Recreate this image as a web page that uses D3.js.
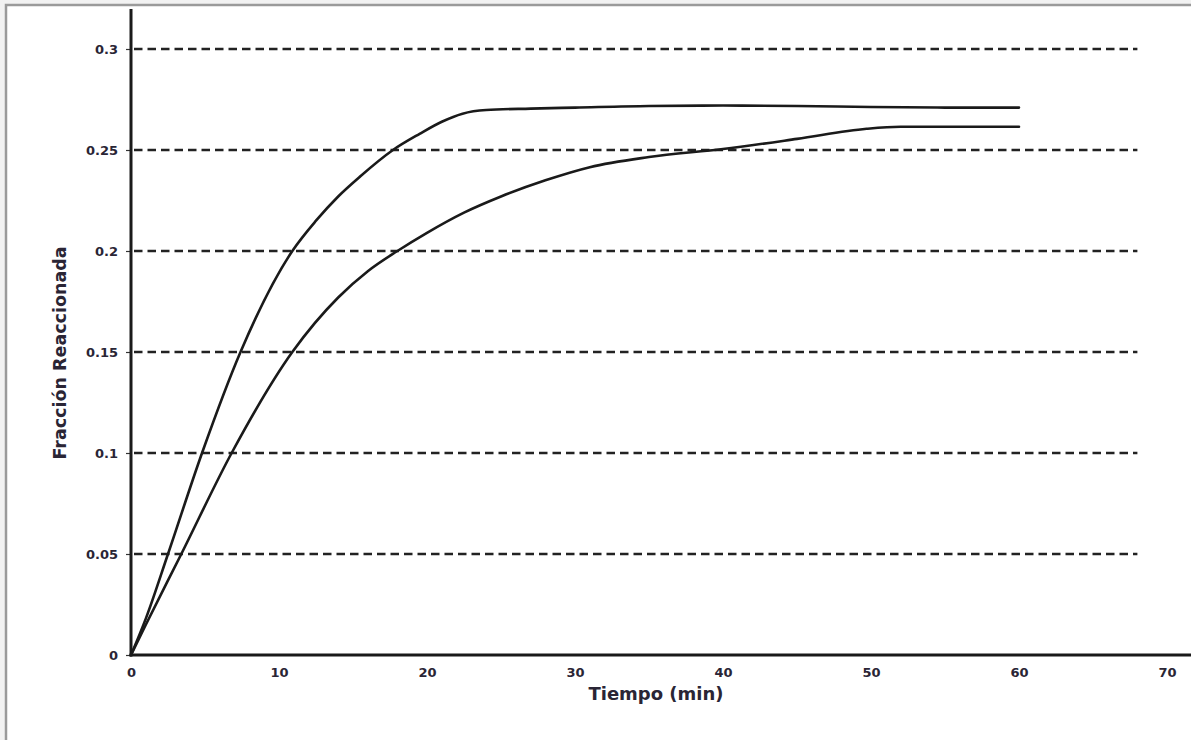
<!DOCTYPE html>
<html>
<head>
<meta charset="utf-8">
<script src="https://cdn.jsdelivr.net/npm/d3@7"></script>
<style>
  body { margin: 0; background: #f2f2f2; }
  svg { display: block; }
  .tick text { font-family: "DejaVu Sans", Verdana, sans-serif; font-weight: bold; fill: #2a2535; }
</style>
</head>
<body>
<div class="chart"></div>
<script>
// values
const timeFast = [0, 1, 2.5, 4.8, 7.4, 10.9, 12.5, 14, 15.5, 17.7, 19.5, 21, 22.4, 24, 27, 30, 35, 40, 45, 50, 55, 60];
const fracFast = [0, 0.018, 0.05, 0.1, 0.15, 0.2, 0.215, 0.227, 0.237, 0.25, 0.258, 0.264, 0.268, 0.2698, 0.2705, 0.271, 0.2718, 0.272, 0.2718, 0.2713, 0.271, 0.271];

const timeSlow = [0, 1, 3.4, 6.8, 10.9, 14, 16, 18, 20, 22.5, 25, 28, 31, 35, 40, 45, 49.7, 52, 56, 60];
const fracSlow = [0, 0.015, 0.05, 0.1, 0.15, 0.177, 0.19, 0.2, 0.209, 0.219, 0.227, 0.235, 0.2415, 0.2465, 0.2505, 0.2555, 0.2605, 0.2615, 0.2615, 0.2615];

const xTicks = [0, 10, 20, 30, 40, 50, 60, 70];
const yTicks = [0, 0.05, 0.1, 0.15, 0.2, 0.25, 0.3];
const gridValues = [0.05, 0.1, 0.15, 0.2, 0.25, 0.3];

const W = 1191, H = 740;
const ink = "#1a1a1a";
const labelFont = "DejaVu Sans, Verdana, sans-serif";

const svg = d3.select(".chart").append("svg")
  .attr("width", W)
  .attr("height", H);

// scanned frame: grey line on top and left
svg.append("rect")
  .attr("x", 6).attr("y", 5)
  .attr("width", W - 6).attr("height", H - 5)
  .attr("fill", "#fff");
svg.append("path")
  .attr("d", `M6,${H} V5 H${W}`)
  .attr("fill", "none")
  .attr("stroke", "#9a9a9a")
  .attr("stroke-width", 2.5);

const x = d3.scaleLinear().domain([0, 70]).range([131, 1167]);
const y = d3.scaleLinear().domain([0, 0.3]).range([655, 49]);

// dashed horizontal gridlines
svg.append("g")
  .selectAll("line")
  .data(gridValues)
  .join("line")
  .attr("x1", x(0) + 3)
  .attr("x2", x(68))
  .attr("y1", (d) => y(d))
  .attr("y2", (d) => y(d))
  .attr("stroke", "#222")
  .attr("stroke-width", 2.6)
  .attr("stroke-dasharray", "8.5,5");

// y axis
const yAxis = svg.append("g")
  .attr("transform", `translate(${x(0)},0)`)
  .call(d3.axisLeft(y).tickValues(yTicks).tickSize(5).tickPadding(8).tickFormat(d3.format("~g")));
yAxis.select(".domain").remove();
yAxis.selectAll(".tick line").attr("stroke", "#333").attr("stroke-width", 1.2);
yAxis.selectAll(".tick text").attr("font-size", 13);

svg.append("line")
  .attr("x1", x(0)).attr("x2", x(0))
  .attr("y1", 9).attr("y2", y(0) + 1.5)
  .attr("stroke", ink)
  .attr("stroke-width", 3);

// x axis
const xAxis = svg.append("g")
  .attr("transform", `translate(0,${y(0)})`)
  .call(d3.axisBottom(x).tickValues(xTicks).tickSize(0).tickPadding(13).tickFormat(d3.format("d")));
xAxis.select(".domain").remove();
xAxis.selectAll(".tick text").attr("font-size", 13);

svg.append("line")
  .attr("x1", x(0) - 1.5).attr("x2", W)
  .attr("y1", y(0)).attr("y2", y(0))
  .attr("stroke", ink)
  .attr("stroke-width", 3);

// curves
const line = d3.line()
  .x((d) => x(d[0]))
  .y((d) => y(d[1]))
  .curve(d3.curveMonotoneX);

const series = [d3.zip(timeFast, fracFast), d3.zip(timeSlow, fracSlow)];

svg.append("g")
  .selectAll("path")
  .data(series)
  .join("path")
  .attr("d", line)
  .attr("fill", "none")
  .attr("stroke", ink)
  .attr("stroke-width", 2.6)
  .attr("stroke-linecap", "round");

// axis titles
svg.append("text")
  .attr("x", 656)
  .attr("y", 700)
  .attr("text-anchor", "middle")
  .attr("font-family", labelFont)
  .attr("font-weight", "bold")
  .attr("font-size", 18)
  .attr("fill", "#2a2535")
  .text("Tiempo (min)");

svg.append("text")
  .attr("transform", "translate(66,353) rotate(-90)")
  .attr("text-anchor", "middle")
  .attr("font-family", labelFont)
  .attr("font-weight", "bold")
  .attr("font-size", 17.5)
  .attr("fill", "#2a2535")
  .text("Fracción Reaccionada");
</script>
</body>
</html>
